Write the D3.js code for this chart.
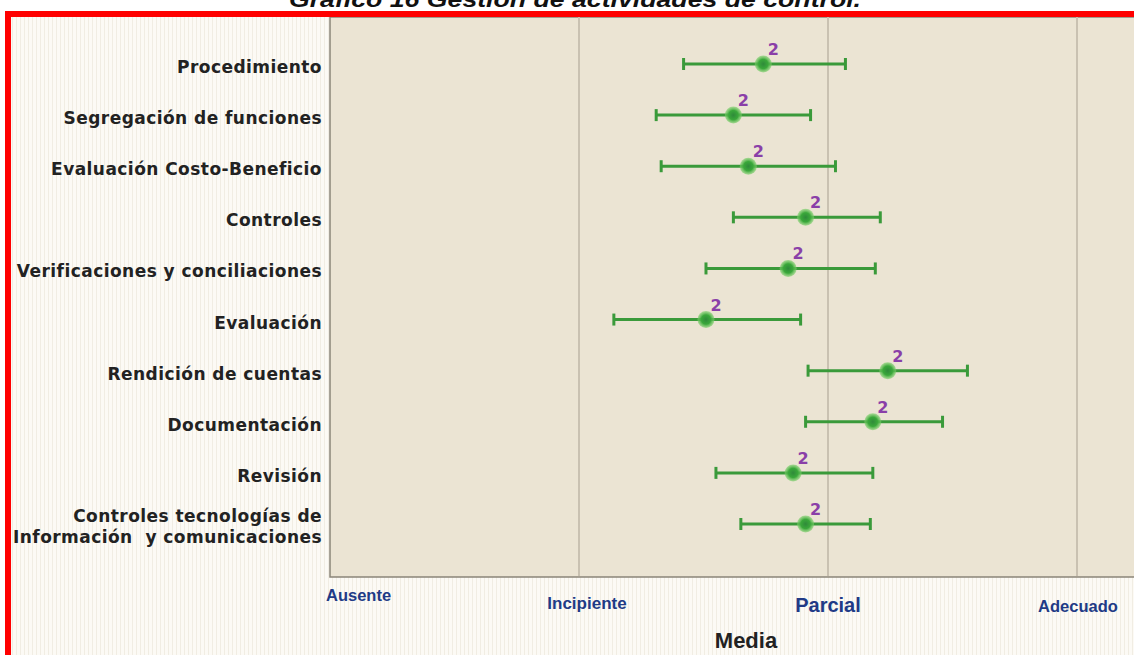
<!DOCTYPE html>
<html>
<head>
<meta charset="utf-8">
<script src="https://cdn.jsdelivr.net/npm/d3@7"></script>
<style>
html,body{margin:0;padding:0;background:#fff;overflow:hidden;}
svg{display:block;}
</style>
</head>
<body>
<svg id="chart" width="1134" height="655"></svg>
<script>
const categories = [
  "Procedimiento",
  "Segregación de funciones",
  "Evaluación Costo-Beneficio",
  "Controles",
  "Verificaciones y conciliaciones",
  "Evaluación",
  "Rendición de cuentas",
  "Documentación",
  "Revisión",
  "Controles tecnologías de|Información  y comunicaciones"
];
const means = [1.74, 1.62, 1.68, 1.91, 1.84, 1.51, 2.24, 2.18, 1.86, 1.91];
const lows  = [1.42, 1.31, 1.33, 1.62, 1.51, 1.14, 1.92, 1.91, 1.55, 1.65];
const highs = [2.07, 1.93, 2.03, 2.21, 2.19, 1.89, 2.56, 2.46, 2.18, 2.17];
const pointLabels = ["2","2","2","2","2","2","2","2","2","2"];
const tickValues = [0, 1, 2, 3];
const tickLabels = ["Ausente", "Incipiente", "Parcial", "Adecuado"];
const titleText = "Gráfico 16 Gestión de actividades de control.";
const xTitle = "Media";

const svg = d3.select("#chart");
const defs = svg.append("defs");
const pat = defs.append("pattern").attr("id","stripes").attr("patternUnits","userSpaceOnUse")
  .attr("width",4).attr("height",4);
pat.append("rect").attr("width",4).attr("height",4).attr("fill","#fcfaf5");
pat.append("rect").attr("width",1).attr("height",4).attr("fill","#f1ede3");
const glow = defs.append("radialGradient").attr("id","dotg");
glow.append("stop").attr("offset","0%").attr("stop-color","#2f8a3a");
glow.append("stop").attr("offset","55%").attr("stop-color","#3aa83a");
glow.append("stop").attr("offset","100%").attr("stop-color","#7cd06a").attr("stop-opacity",0.6);

// page background
svg.append("rect").attr("x",0).attr("y",0).attr("width",1134).attr("height",655).attr("fill","#fff");
svg.append("rect").attr("x",8).attr("y",14).attr("width",1140).attr("height",660).attr("fill","url(#stripes)");

// title (clipped by top, as in the reference)
svg.append("text").attr("x",575).attr("y",7).attr("text-anchor","middle")
  .attr("font-family","Liberation Sans, Arial, sans-serif").attr("font-weight","bold").attr("font-style","italic")
  .attr("font-size",22).attr("textLength",572).attr("lengthAdjust","spacingAndGlyphs")
  .attr("fill","#111").text(titleText);

const pLeft = 330, pRight = 1077, pTop = 17, pBottom = 577;
const x = d3.scaleLinear().domain([0,3]).range([pLeft, pRight]);
const y = d3.scalePoint().domain(categories).range([63, 523]);

// plot area
svg.append("rect").attr("x",pLeft).attr("y",pTop).attr("width",1134-pLeft+10).attr("height",pBottom-pTop)
  .attr("fill","#ebe4d3").attr("stroke","#8a8578").attr("stroke-width",1.5);

// gridlines
svg.append("g").selectAll("line").data(tickValues.slice(1)).join("line")
  .attr("x1",d=>x(d)).attr("x2",d=>x(d)).attr("y1",pTop).attr("y2",pBottom-1)
  .attr("stroke","#c9c1b1").attr("stroke-width",2);

// red frame
svg.append("rect").attr("x",8).attr("y",14).attr("width",1140).attr("height",660)
  .attr("fill","none").attr("stroke","#ff0000").attr("stroke-width",6);

// y labels
const yl = svg.append("g");
categories.forEach((c,i)=>{
  const lines = c.split("|");
  const t = yl.append("text").attr("x",322).attr("text-anchor","end")
    .attr("font-family","DejaVu Sans, Verdana, sans-serif").attr("font-weight","bold")
    .attr("font-size",17).attr("letter-spacing",0.45).attr("fill","#222")
    .style("white-space","pre");
  const yy = y(c);
  if (lines.length === 1) {
    t.append("tspan").attr("x",322).attr("y",yy+10).text(lines[0]);
  } else {
    t.append("tspan").attr("x",322).attr("y",yy-1).text(lines[0]);
    t.append("tspan").attr("x",322).attr("y",yy+20).text(lines[1]);
  }
});

// error bars
const eb = svg.append("g");
categories.forEach((c,i)=>{
  const yy = y(c)+1;
  const g = eb.append("g").attr("stroke","#3a9a3a").attr("stroke-width",3);
  g.append("line").attr("x1",x(lows[i])).attr("x2",x(highs[i])).attr("y1",yy).attr("y2",yy);
  g.append("line").attr("x1",x(lows[i])).attr("x2",x(lows[i])).attr("y1",yy-6).attr("y2",yy+6);
  g.append("line").attr("x1",x(highs[i])).attr("x2",x(highs[i])).attr("y1",yy-6).attr("y2",yy+6);
  eb.append("circle").attr("cx",x(means[i])).attr("cy",yy).attr("r",8.5).attr("fill","url(#dotg)");
  eb.append("text").attr("x",x(means[i])+10).attr("y",yy-9).attr("text-anchor","middle")
    .attr("font-family","DejaVu Sans, Verdana, sans-serif").attr("font-weight","bold").attr("font-size",16)
    .attr("fill","#8a3fa8").text(pointLabels[i]);
});

// x tick labels
const tickStyle = [
  {dx:-4, anchor:"start", y:601, size:16.5},
  {dx:8, anchor:"middle", y:609, size:17},
  {dx:0, anchor:"middle", y:612, size:20},
  {dx:1, anchor:"middle", y:612, size:16.5}
];
svg.append("g").selectAll("text").data(tickValues).join("text")
  .attr("x",(d,i)=>x(d)+tickStyle[i].dx).attr("y",(d,i)=>tickStyle[i].y)
  .attr("text-anchor",(d,i)=>tickStyle[i].anchor)
  .attr("font-family","Liberation Sans Narrow, Arial Narrow, sans-serif").attr("font-weight","bold")
  .attr("font-size",(d,i)=>tickStyle[i].size).attr("fill","#213a86")
  .text((d,i)=>tickLabels[i]);

svg.append("text").attr("x",746).attr("y",648).attr("text-anchor","middle")
  .attr("font-family","Liberation Sans Narrow, Arial Narrow, sans-serif").attr("font-weight","bold")
  .attr("font-size",22).attr("fill","#222").text(xTitle);
</script>
</body>
</html>
